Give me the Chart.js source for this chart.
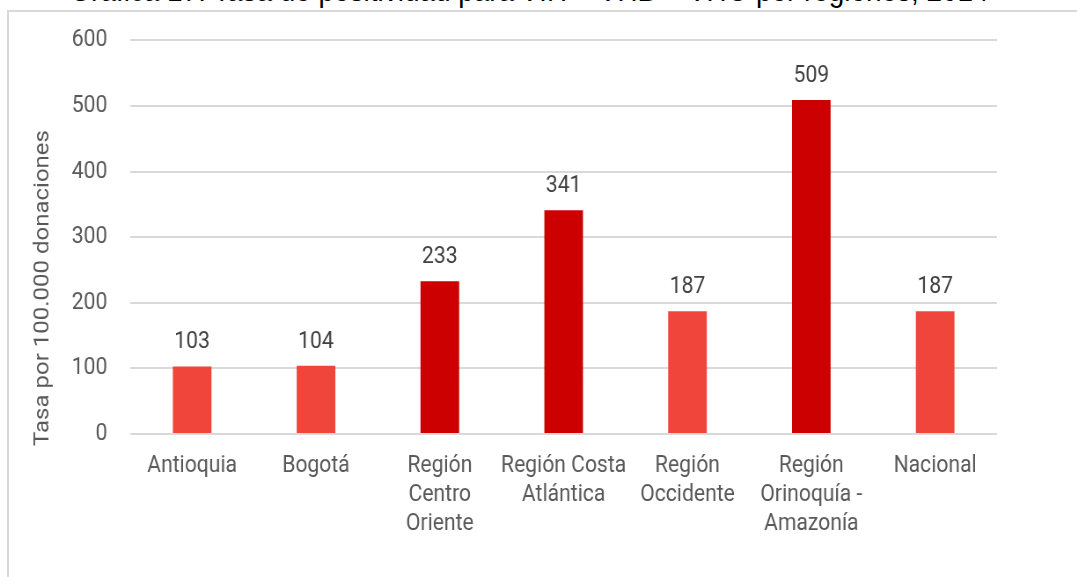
<!DOCTYPE html>
<html>
<head>
<meta charset="utf-8">
<script src="https://cdn.jsdelivr.net/npm/chart.js@4"></script>
<style>
  html, body { margin: 0; padding: 0; background: #fff; overflow: hidden; }
  #wrap { position: relative; width: 1077px; height: 577px; overflow: hidden; }
  #frame { position: absolute; left: 7px; top: 10px; width: 1080px; height: 600px;
           border-left: 2px solid #d9d9d9; border-top: 2px solid #d9d9d9; box-sizing: border-box; }
  #title { position: absolute; left: 529px; top: -25px; width: 0; overflow: visible; }
  #title span { position: absolute; left: 0; transform: translateX(-50%) scaleX(0.9);
           font-family: "Liberation Sans", Arial, sans-serif; font-size: 31px; line-height: 31px;
           color: #000; white-space: nowrap; }
  #stretch { position: absolute; left: 0; top: 0; width: 1224px; height: 577px;
             transform: scaleX(0.88); transform-origin: 0 0; }
  canvas { display: block; }
</style>
</head>
<body>
<div id="wrap">
  <div id="title"><span>Gráfica 17. Tasa de positividad para <i>VIH + VHB + VHC</i> por regiones, 2014</span></div>
  <div id="frame"></div>
  <div id="stretch"><canvas id="c" width="1224" height="577"></canvas></div>
</div>
<script>
const categories = [
  "Antioquia",
  "Bogotá",
  ["Región", "Centro", "Oriente"],
  ["Región Costa", "Atlántica"],
  ["Región", "Occidente"],
  ["Región", "Orinoquía -", "Amazonía"],
  "Nacional"
];
const values = [103, 104, 233, 341, 187, 509, 187];
const barColors = ["#F0453A", "#F0453A", "#CC0000", "#CC0000", "#F0453A", "#CC0000", "#F0453A"];
const yTicks = [0, 100, 200, 300, 400, 500, 600];
const yTitle = "Tasa por 100.000 donaciones";

const FONT = "Roboto, 'Liberation Sans', sans-serif";
const TEXT = "#595959";

const labelPlugin = {
  id: "valueLabels",
  afterDatasetsDraw(chart) {
    const ctx = chart.ctx;
    const meta = chart.getDatasetMeta(0);
    ctx.save();
    ctx.font = "24px " + FONT;
    ctx.fillStyle = "#404040";
    ctx.textAlign = "center";
    ctx.textBaseline = "middle";
    meta.data.forEach((bar, i) => {
      ctx.fillText(String(values[i]), bar.x, bar.y - 24);
    });
    ctx.restore();
  }
};

const yTitlePlugin = {
  id: "yTitle",
  afterDraw(chart) {
    const ctx = chart.ctx;
    const a = chart.chartArea;
    ctx.save();
    ctx.font = "24px " + FONT;
    ctx.fillStyle = TEXT;
    ctx.textAlign = "center";
    ctx.textBaseline = "middle";
    ctx.translate(49, a.bottom - 146);
    ctx.rotate(-Math.PI / 2);
    ctx.fillText(yTitle, 0, 0);
    ctx.restore();
  }
};

new Chart(document.getElementById("c"), {
  type: "bar",
  data: {
    labels: categories,
    datasets: [{
      data: values,
      backgroundColor: barColors,
      borderWidth: 0,
      barPercentage: 0.312,
      categoryPercentage: 1
    }]
  },
  options: {
    responsive: false,
    animation: false,
    devicePixelRatio: 1,
    layout: { padding: { left: 0, top: 38, right: 91, bottom: 0 } },
    plugins: { legend: { display: false }, tooltip: { enabled: false }, title: { display: false } },
    scales: {
      x: {
        grid: { display: false, drawTicks: false },
        border: { display: false },
        ticks: {
          color: TEXT,
          font: { family: FONT, size: 24, lineHeight: 1.2 },
          padding: 18,
          maxRotation: 0,
          autoSkip: false
        },
        afterFit(s) { s.height = 143; }
      },
      y: {
        min: 0,
        max: 600,
        afterBuildTicks(s) { s.ticks = yTicks.map(v => ({ value: v })); },
        grid: { color: "#d9d9d9", lineWidth: 2, drawTicks: false },
        border: { display: false },
        ticks: {
          color: TEXT,
          font: { family: FONT, size: 24 },
          padding: 26
        },
        afterFit(s) { s.width = 148; }
      }
    }
  },
  plugins: [labelPlugin, yTitlePlugin]
});
</script>
</body>
</html>
